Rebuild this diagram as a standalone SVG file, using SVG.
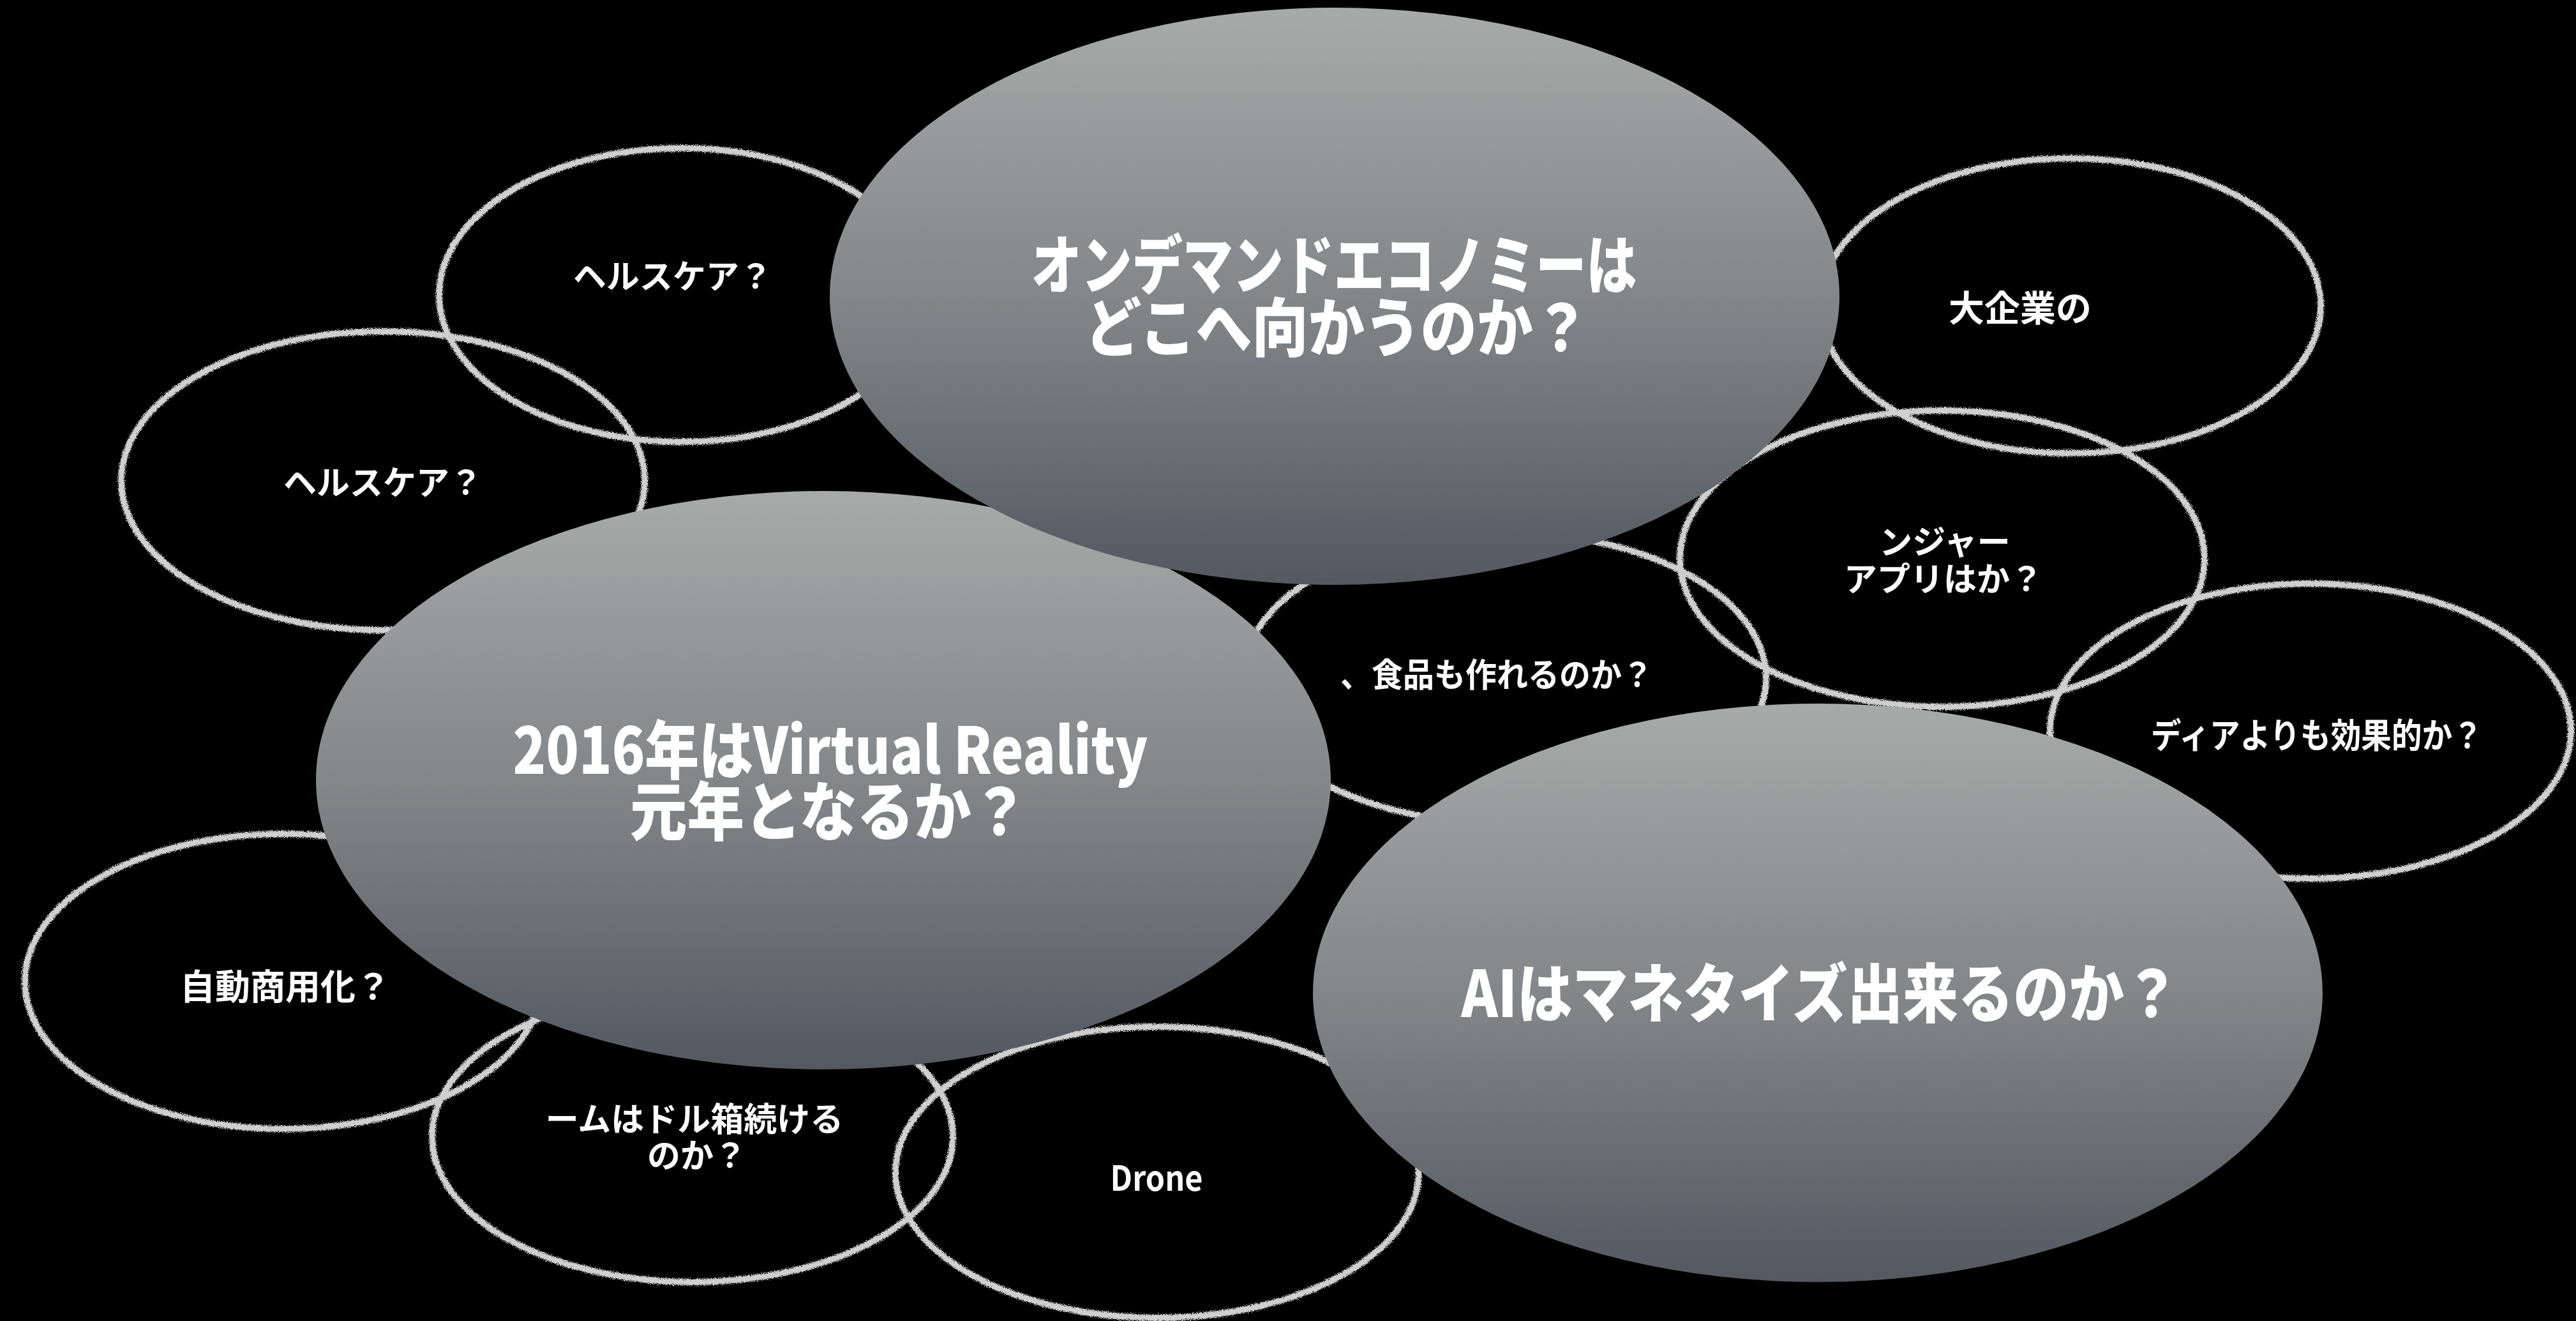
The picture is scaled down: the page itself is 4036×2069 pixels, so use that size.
<svg xmlns="http://www.w3.org/2000/svg" width="4036" height="2069" viewBox="0 0 4036 2069">
<style>
.bg{fill:#000}
.chalk{fill:none;stroke:#cfcfcf;stroke-width:10;filter:url(#rough)}
.big{fill:url(#grad)}
.bt{font-family:"Noto Sans CJK JP","Noto Sans",sans-serif;font-weight:900;font-size:100px;fill:#fff;text-anchor:middle}
.st{font-family:"Noto Sans CJK JP","Noto Sans",sans-serif;font-weight:700;font-size:52px;fill:#fff;text-anchor:middle}
</style>
<defs>
<linearGradient id="grad" x1="0" y1="0" x2="0" y2="1">
<stop offset="0" stop-color="#a7aaa8"/>
<stop offset="0.5" stop-color="#83878a"/>
<stop offset="1" stop-color="#535861"/>
</linearGradient>
<filter id="rough" x="-5%" y="-5%" width="110%" height="110%">
<feTurbulence type="fractalNoise" baseFrequency="0.9" numOctaves="3" seed="4" result="n"/>
<feDisplacementMap in="SourceGraphic" in2="n" scale="9" xChannelSelector="R" yChannelSelector="G"/>
</filter>
</defs>
<rect class="bg" x="0" y="0" width="4036" height="2069"/>
<g id="connectors"></g>
<g id="node-healthcare-1"><ellipse class="chalk" cx="1068" cy="462" rx="380" ry="230"/><text class="st" x="1054" y="452">ヘルスケア？</text></g>
<g id="node-healthcare-2"><ellipse class="chalk" cx="600" cy="753" rx="410" ry="234"/><text class="st" x="600" y="775">ヘルスケア？</text></g>
<g id="node-enterprise"><ellipse class="chalk" cx="3244" cy="479" rx="392" ry="231"/><text class="st" x="3165" y="503" style="font-size:56px">大企業の</text></g>
<g id="node-messenger"><ellipse class="chalk" cx="3043" cy="875" rx="411" ry="232"/><text class="st"><tspan x="3047" y="868">ンジャー</tspan><tspan x="3045" y="926">アプリはか？</tspan></text></g>
<g id="node-media"><ellipse class="chalk" cx="3620" cy="1145" rx="408" ry="231"/><text class="st" x="3630" y="1172" style="font-size:54px" textLength="520" lengthAdjust="spacingAndGlyphs">ディアよりも効果的か？</text></g>
<g id="node-food"><ellipse class="chalk" cx="2357" cy="1062" rx="410" ry="228"/><text class="st" x="2345" y="1076" textLength="490" lengthAdjust="spacingAndGlyphs">、食品も作れるのか？</text></g>
<g id="node-auto"><ellipse class="chalk" cx="444" cy="1537" rx="405" ry="231"/><text class="st" x="447" y="1565" style="font-size:55px">自動商用化？</text></g>
<g id="node-game"><ellipse class="chalk" cx="1085" cy="1780" rx="408" ry="228"/><text class="st"><tspan x="1088" y="1772">ームはドル箱続ける</tspan><tspan x="1092" y="1829">のか？</tspan></text></g>
<g id="node-drone"><ellipse class="chalk" cx="1813" cy="1836" rx="410" ry="228"/><text class="st" x="1812" y="1865" style="font-size:54px" textLength="145" lengthAdjust="spacingAndGlyphs">Drone</text></g>
<g id="node-vr"><ellipse class="big" cx="1290" cy="1222" rx="795" ry="453"/><text class="bt"><tspan x="1301" y="1212" textLength="995" lengthAdjust="spacingAndGlyphs">2016年はVirtual Reality</tspan><tspan x="1299" y="1308" textLength="624" lengthAdjust="spacingAndGlyphs">元年となるか？</tspan></text></g>
<g id="node-ondemand"><ellipse class="big" cx="2091" cy="464" rx="791" ry="452"/><text class="bt"><tspan x="2090" y="452" textLength="949" lengthAdjust="spacingAndGlyphs">オンデマンドエコノミーは</tspan><tspan x="2095" y="550" textLength="790" lengthAdjust="spacingAndGlyphs">どこへ向かうのか？</tspan></text></g>
<g id="node-ai"><ellipse class="big" cx="2848" cy="1555" rx="791" ry="453"/><text class="bt" x="2852" y="1593" textLength="1125" lengthAdjust="spacingAndGlyphs">AIはマネタイズ出来るのか？</text></g>
</svg>
